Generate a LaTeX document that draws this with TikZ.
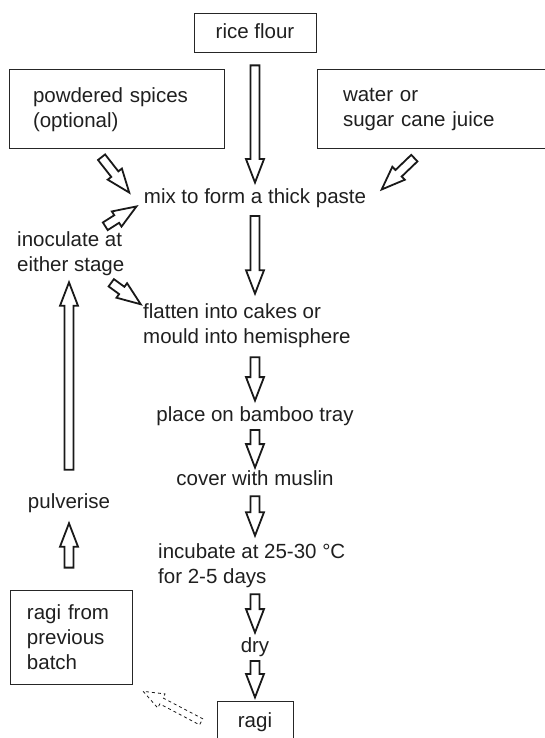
\documentclass[tikz,border=0pt]{standalone}
\usepackage{fontspec}
\setmainfont{Liberation Sans}
\usetikzlibrary{calc,positioning,shapes.arrows}

\tikzset{
  hollow/.style 2 args={to path={
    let \p1=($(\tikztostart)!#1!(\tikztotarget)$),
        \p2=($(\tikztotarget)!#2!(\tikztostart)$),
        \n1={atan2(\y2-\y1,\x2-\x1)},
        \n2={veclen(\x2-\x1,\y2-\y1)} in
    node[blockarrow, rotate=\n1, minimum height=\n2, anchor=tail] at (\p1) {}}}
}

\begin{document}
\begin{tikzpicture}[x=1pt,y=-1pt]
\tikzstyle{txt}=[inner sep=0pt, font=\fontsize{20.5pt}{25pt}\selectfont, text=black!88]
\tikzstyle{box}=[txt, rectangle, draw=black!85, line width=1pt]
\tikzstyle{blockarrow}=[single arrow, draw=black!90, fill=white, line width=1.8pt, inner sep=3.6pt, single arrow head extend=4.5pt, single arrow tip angle=42]
\tikzstyle{dashedarrow}=[blockarrow/.append style={dashed, line width=0.8pt, inner sep=3pt}]

  \useasboundingbox (0,0) rectangle (544,738);

  % inputs
  \node[box, minimum width=122pt, minimum height=39pt, text depth=4.3pt] (rice) at (255,33.5) {rice flour};
  \node[box, text width=167pt, inner xsep=24pt, minimum height=79pt, align=left] (spices) at (116.5,109.5) {powdered spices\\(optional)};
  \node[box, text width=200pt, inner xsep=26pt, minimum height=79pt, align=left] (water) at (443,109.5) {water or\\sugar cane juice};

  % main steps
  \node[txt, anchor=base] (mix) at (255,203) {mix to form a thick paste};
  \node[txt, anchor=west, align=left] (inoc) at (17,253.3) {inoculate at\\either stage};
  \node[txt, anchor=west, align=left] (flat) at (143,325.3) {flatten into cakes or\\mould into hemisphere};
  \node[txt, anchor=base] (tray) at (255,421) {place on bamboo tray};
  \node[txt, anchor=base] (muslin) at (255,485) {cover with muslin};
  \node[txt, anchor=west, align=left] (incub) at (158,565.3) {incubate at 25-30 °C\\for 2-5 days};
  \node[txt, anchor=base] (dry) at (255,652) {dry};
  \node[box, minimum width=76pt, minimum height=40.3pt, text depth=4.3pt] (ragi) at (255,721.8) {ragi};

  % starter loop
  \node[box, text width=88pt, inner xsep=17pt, minimum height=94pt, align=left] (prev) at (71,637) {ragi from\\previous\\batch};
  \node[txt, anchor=base] (pulv) at (69,508) {pulverise};

  \path (rice.south) edge[hollow={11pt}{6.3pt}] (mix.north)
        ($(spices.south)+(-15.5,7)$) edge[hollow={0pt}{0pt}] ($(mix.west)+(-15,-5.8)$)
        ($(water.south)+(-28,8)$) edge[hollow={0pt}{0pt}] ($(mix.east)+(16,-8.8)$)
        ($(inoc.north east)+(-20,-4.3)$) edge[hollow={0pt}{0pt}] ($(mix.west)+(-8,9.2)$)
        (mix.south) edge[hollow={7.7pt}{10.3pt}] (flat.north -| mix.south)
        ($(inoc.south east)+(-14,6.7)$) edge[hollow={0pt}{0pt}] ($(flat.north west)+(-3,0.7)$)
        (flat.south -| tray.north) edge[hollow={8.7pt}{6.3pt}] (tray.north)
        (tray.south) edge[hollow={3.7pt}{3.3pt}] (muslin.north)
        (muslin.south) edge[hollow={10pt}{8.3pt}] (incub.north -| muslin.south)
        (incub.south -| dry.north) edge[hollow={5.7pt}{5.3pt}] (dry.north)
        (dry.south) edge[hollow={3.7pt}{4.7pt}] (ragi.north)
        (prev.north -| pulv.south) edge[hollow={21pt}{11.7pt}] (pulv.south)
        (pulv.north) edge[hollow={22.3pt}{7.7pt}] (inoc.south -| pulv.north)
        ($(ragi.west)+(-15,0.2)$) edge[dashedarrow, hollow={0pt}{0pt}] ($(prev.south east)+(11,7)$);
\end{tikzpicture}
\end{document}
